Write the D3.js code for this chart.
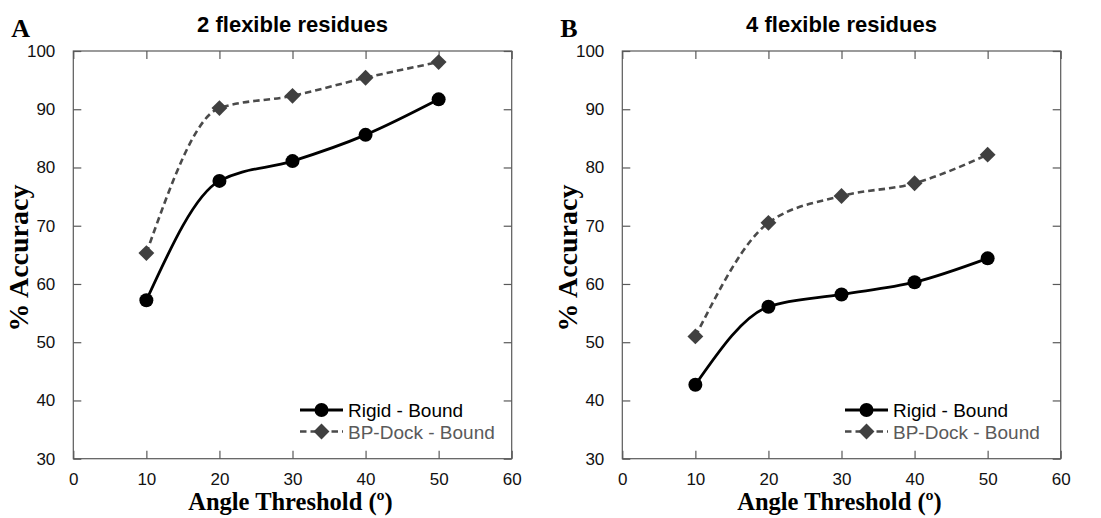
<!DOCTYPE html>
<html><head><meta charset="utf-8">
<script src="https://cdn.jsdelivr.net/npm/d3@7"></script>
<style>body{margin:0;background:#fff}svg{display:block}</style>
</head><body>
<svg id="c" width="1101" height="518"></svg>
<script>
const angles = [10, 20, 30, 40, 50];
const rigidA = [57.2, 77.7, 81.1, 85.6, 91.7];
const bpdockA = [65.3, 90.2, 92.3, 95.4, 98.1];
const rigidB = [42.7, 56.1, 58.2, 60.3, 64.4];
const bpdockB = [51.0, 70.5, 75.1, 77.3, 82.2];
const xTicks = [0, 10, 20, 30, 40, 50, 60];
const yTicks = [30, 40, 50, 60, 70, 80, 90, 100];
const seriesNames = ["Rigid - Bound", "BP-Dock - Bound"];
const panelTitles = ["2 flexible residues", "4 flexible residues"];
const panelLetters = ["A", "B"];
const xLabel = "Angle Threshold (º)";
const yLabel = "% Accuracy";

const svg = d3.select("#c");
const frame = "#595959";

function panel(ox, data, title, letter, legX) {
  const left = ox, right = ox + 438.4, top = 51, bottom = 458.7;
  const x = d3.scaleLinear().domain([0, 60]).range([left, right]);
  const y = d3.scaleLinear().domain([30, 100]).range([bottom, top]);
  const g = svg.append("g");

  g.append("rect").attr("x", left).attr("y", top).attr("width", right - left).attr("height", bottom - top)
    .attr("fill", "none").attr("stroke", frame).attr("stroke-width", 1.2);

  const axB = d3.axisBottom(x).tickValues(xTicks).tickSize(-8).tickPadding(14).tickFormat(d3.format("d"));
  const axT = d3.axisTop(x).tickValues(xTicks).tickSize(-8).tickFormat("");
  const axL = d3.axisLeft(y).tickValues(yTicks).tickSize(-8).tickPadding(18).tickFormat(d3.format("d"));
  const axR = d3.axisRight(y).tickValues(yTicks).tickSize(-8).tickFormat("");
  [[axB, `translate(0,${bottom})`], [axT, `translate(0,${top})`], [axL, `translate(${left},0)`], [axR, `translate(${right},0)`]]
    .forEach(([ax, tr]) => {
      const a = g.append("g").attr("transform", tr).call(ax);
      a.select(".domain").remove();
      a.selectAll("line").attr("stroke", frame).attr("stroke-width", 1.2);
      a.selectAll("text").attr("font-family", "Liberation Sans, Arial, sans-serif").attr("font-size", 17).attr("fill", "#111");
    });

  const line = d3.line().x((d, i) => x(angles[i])).y(d => y(d)).curve(d3.curveMonotoneX);

  g.append("path").attr("d", line(data[1])).attr("fill", "none").attr("stroke", "#4a4a4a")
    .attr("stroke-width", 2.6).attr("stroke-dasharray", "6.5,4");
  const diamond = d3.symbol().type(d3.symbolDiamond2).size(160);
  g.selectAll(".dm").data(data[1]).join("path").attr("d", diamond)
    .attr("transform", (d, i) => `translate(${x(angles[i])},${y(d)})`).attr("fill", "#404040");

  g.append("path").attr("d", line(data[0])).attr("fill", "none").attr("stroke", "#000").attr("stroke-width", 2.8);
  g.selectAll(".ci").data(data[0]).join("circle")
    .attr("cx", (d, i) => x(angles[i])).attr("cy", d => y(d)).attr("r", 7).attr("fill", "#000");

  const ly1 = 410, ly2 = 431.5;
  g.append("line").attr("x1", legX).attr("x2", legX + 43).attr("y1", ly1).attr("y2", ly1).attr("stroke", "#000").attr("stroke-width", 2.8);
  g.append("circle").attr("cx", legX + 21.5).attr("cy", ly1).attr("r", 7).attr("fill", "#000");
  g.append("line").attr("x1", legX).attr("x2", legX + 43).attr("y1", ly2).attr("y2", ly2).attr("stroke", "#4a4a4a").attr("stroke-width", 2.6).attr("stroke-dasharray", "6.5,4");
  g.append("path").attr("d", diamond).attr("transform", `translate(${legX + 21.5},${ly2})`).attr("fill", "#404040");
  g.append("text").attr("x", legX + 48).attr("y", ly1 + 7).text(seriesNames[0])
    .attr("font-family", "Liberation Sans, Arial, sans-serif").attr("font-size", 19).attr("fill", "#000");
  g.append("text").attr("x", legX + 48).attr("y", ly2 + 7).text(seriesNames[1])
    .attr("font-family", "Liberation Sans, Arial, sans-serif").attr("font-size", 19).attr("fill", "#5a5a5a");

  g.append("text").attr("x", (left + right) / 2).attr("y", 32).attr("text-anchor", "middle").text(title)
    .attr("font-family", "Liberation Sans, Arial, sans-serif").attr("font-weight", "bold").attr("font-size", 22).attr("fill", "#000");
  g.append("text").attr("x", left - 62).attr("y", 36.5).text(letter)
    .attr("font-family", "Liberation Serif, Times New Roman, serif").attr("font-weight", "bold").attr("font-size", 26).attr("fill", "#000");
  g.append("text").attr("x", (left + right) / 2 - 2).attr("y", 510).attr("text-anchor", "middle").text(xLabel)
    .attr("font-family", "Liberation Serif, Times New Roman, serif").attr("font-weight", "bold").attr("font-size", 24.5).attr("fill", "#000");
  g.append("text").attr("transform", `translate(${left - 45.5},258) rotate(-90)`).attr("text-anchor", "middle").text(yLabel)
    .attr("font-family", "Liberation Serif, Times New Roman, serif").attr("font-weight", "bold").attr("font-size", 28).attr("fill", "#000");
}

panel(73.3, [rigidA, bpdockA], panelTitles[0], panelLetters[0], 300);
panel(622.3, [rigidB, bpdockB], panelTitles[1], panelLetters[1], 845);
</script>
</body></html>
